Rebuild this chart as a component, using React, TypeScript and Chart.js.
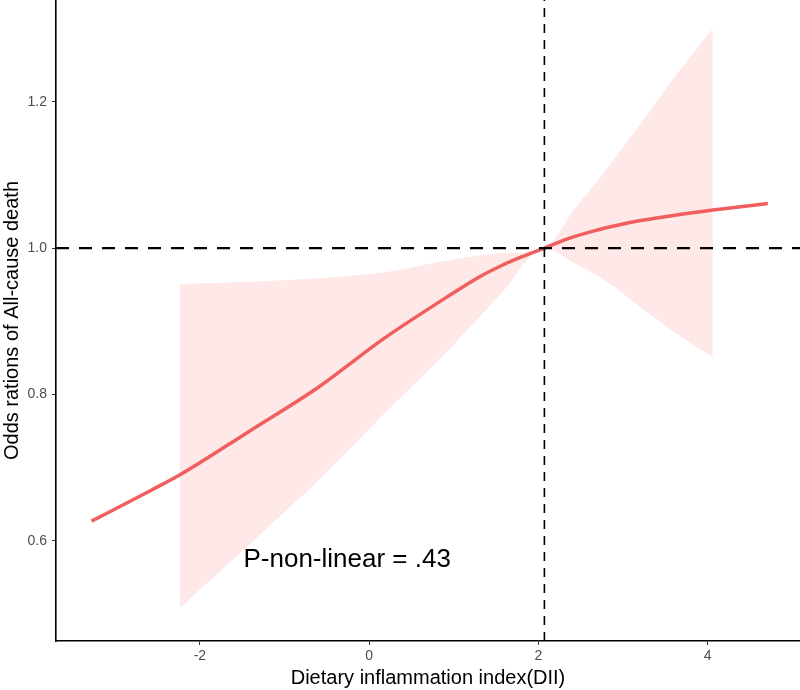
import React, { useEffect, useRef } from "react";
import { Chart, registerables } from "chart.js";

Chart.register(...registerables);

// Spline estimate (odds ratio) vs DII
const curveX = [-3.28, -2.58, -2.24, -1.4, -0.6, 0.18, 0.97, 1.29, 1.56, 1.8, 2.07, 2.35, 2.67, 2.96, 3.22, 3.61, 4.06, 4.71];
const curveY = [0.627, 0.669, 0.69, 0.751, 0.81, 0.877, 0.937, 0.96, 0.976, 0.988, 1.0, 1.013, 1.024, 1.032, 1.038, 1.045, 1.052, 1.061];

// 95% CI band
const bandX = [-2.24, -1.4, -0.6, 0.18, 0.97, 1.56, 2.07, 2.43, 2.83, 3.22, 3.61, 4.06];
const bandUpper = [0.951, 0.954, 0.959, 0.967, 0.984, 0.993, 1.0, 1.054, 1.112, 1.172, 1.234, 1.3];
const bandLower = [0.508, 0.597, 0.683, 0.774, 0.865, 0.938, 1.0, 0.979, 0.952, 0.918, 0.885, 0.851];

// Reference lines
const refY = 1.0;
const refX = 2.07;

// Axes
const xRange = [-3.7, 5.09];
const yRange = [0.4633, 1.339];
const xTicks = [-2, 0, 2, 4];
const yTicks = [0.6, 0.8, 1.0, 1.2];

const xTitle = "Dietary inflammation index(DII)";
const yTitle = "Odds rations of All-cause death";

const annotText = "P-non-linear = .43";
const annotX = -0.26;
const annotY = 0.574;

const FONT = "'Liberation Sans', Arial, sans-serif";

export default function App() {
  const ref = useRef<HTMLCanvasElement | null>(null);

  useEffect(() => {
    if (!ref.current) return;
    const toPts = (xs: number[], ys: number[]) => xs.map((x, i) => ({ x, y: ys[i] }));

    const annotPlugin = {
      id: "annot",
      afterDatasetsDraw(chart: any) {
        const { ctx, scales } = chart;
        const px = scales.x.getPixelForValue(annotX);
        const py = scales.y.getPixelForValue(annotY);
        ctx.save();
        ctx.font = `26px ${FONT}`;
        ctx.fillStyle = "#000";
        ctx.textAlign = "center";
        ctx.textBaseline = "middle";
        ctx.fillText(annotText, px, py);
        ctx.restore();
      },
    };

    const chart = new Chart(ref.current, {
      type: "line",
      data: {
        datasets: [
          {
            label: "refH",
            data: [
              { x: xRange[0], y: refY },
              { x: xRange[1], y: refY },
            ],
            borderColor: "#000",
            borderWidth: 2.2,
            borderDash: [13, 10],
            pointRadius: 0,
            fill: false,
            order: 0,
          },
          {
            label: "refV",
            data: [
              { x: refX, y: yRange[0] },
              { x: refX, y: yRange[1] },
            ],
            borderColor: "#000",
            borderWidth: 1.6,
            borderDash: [9, 7],
            pointRadius: 0,
            fill: false,
            order: 0,
          },
          {
            label: "OR",
            data: toPts(curveX, curveY),
            borderColor: "#F15E5E",
            borderWidth: 3.5,
            pointRadius: 0,
            cubicInterpolationMode: "monotone",
            fill: false,
            order: 1,
          },
          {
            label: "upper",
            data: toPts(bandX, bandUpper),
            borderWidth: 0,
            borderColor: "rgba(0,0,0,0)",
            backgroundColor: "rgba(248,118,109,0.16)",
            pointRadius: 0,
            cubicInterpolationMode: "monotone",
            fill: 4,
            order: 2,
          },
          {
            label: "lower",
            data: toPts(bandX, bandLower),
            borderWidth: 0,
            borderColor: "rgba(0,0,0,0)",
            pointRadius: 0,
            cubicInterpolationMode: "monotone",
            fill: false,
            order: 3,
          },
        ],
      },
      options: {
        animation: false,
        responsive: true,
        maintainAspectRatio: false,
        layout: { padding: 0 },
        plugins: {
          legend: { display: false },
          tooltip: { enabled: false },
        },
        scales: {
          x: {
            type: "linear",
            min: xRange[0],
            max: xRange[1],
            afterFit: (s: any) => {
              s.height = 49;
              s.paddingLeft = 0;
              s.paddingRight = 0;
            },
            afterBuildTicks: (s: any) => {
              s.ticks = xTicks.map((v) => ({ value: v }));
            },
            border: { display: true, color: "#000", width: 1.6 },
            grid: {
              drawOnChartArea: false,
              drawTicks: true,
              tickLength: 4,
              tickColor: "#333",
              tickWidth: 1,
            },
            ticks: {
              color: "#4D4D4D",
              font: { family: FONT, size: 14 },
              padding: 3,
              maxRotation: 0,
              callback: (v: any) => String(v),
            },
            title: {
              display: true,
              text: xTitle,
              color: "#000",
              font: { family: FONT, size: 20, lineHeight: 1.2 },
              padding: { top: 0, bottom: 0 },
            },
          },
          y: {
            type: "linear",
            min: yRange[0],
            max: yRange[1],
            afterFit: (s: any) => {
              s.width = 56;
              s.paddingTop = 0;
              s.paddingBottom = 0;
            },
            afterBuildTicks: (s: any) => {
              s.ticks = yTicks.map((v) => ({ value: v }));
            },
            border: { display: true, color: "#000", width: 1.6 },
            grid: {
              drawOnChartArea: false,
              drawTicks: true,
              tickLength: 4,
              tickColor: "#333",
              tickWidth: 1,
            },
            ticks: {
              color: "#4D4D4D",
              font: { family: FONT, size: 14 },
              padding: 5,
              callback: (v: any) => Number(v).toFixed(1),
            },
            title: {
              display: true,
              text: yTitle,
              color: "#000",
              font: { family: FONT, size: 20, lineHeight: 1.2 },
              padding: { top: 0, bottom: 0 },
            },
          },
        },
      },
      plugins: [annotPlugin],
    } as any);

    return () => chart.destroy();
  }, []);

  return (
    <div style={{ position: "absolute", left: 0, top: 0, width: 800, height: 690, background: "#fff" }}>
      <canvas ref={ref} />
    </div>
  );
}
